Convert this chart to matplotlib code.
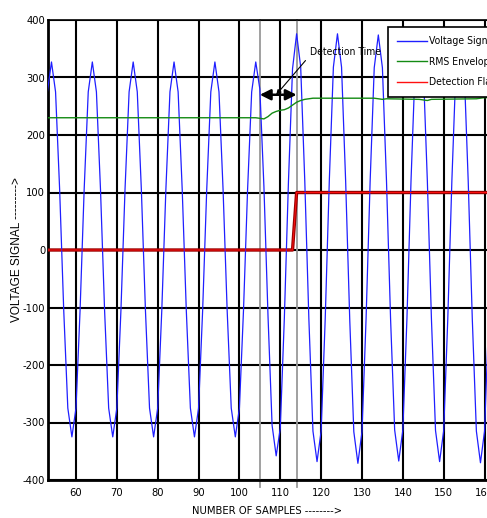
import matplotlib
matplotlib.use("Agg")
import matplotlib.pyplot as plt
from matplotlib import font_manager
from matplotlib.font_manager import FontProperties

plt.rcParams['axes.unicode_minus'] = False

# look for a narrow / condensed face, the chart uses Arial Narrow style text
narrow_file = None
for f in font_manager.fontManager.ttflist:
    if f.style != 'normal' or f.weight not in (400, 'normal', 'regular'):
        continue
    if 'Narrow' in f.name or 'Condensed' in f.name or f.stretch in ('condensed', 'semi-condensed'):
        if narrow_file is None or 'Liberation' in f.name:
            narrow_file = f.fname


def nfont(size):
    if narrow_file:
        return FontProperties(fname=narrow_file, size=size)
    return FontProperties(family='Liberation Sans', size=size * 0.9)


# --- data ---
samples = list(range(53, 162))
voltage = [
    275,                                                     # 53
    327, 275, 105, -105, -275, -325, -275, -105, 105, 275,   # 54-63
    327, 275, 105, -105, -275, -325, -275, -105, 105, 275,   # 64-73
    327, 275, 105, -105, -275, -325, -275, -105, 105, 275,   # 74-83
    327, 275, 105, -105, -275, -325, -275, -105, 105, 275,   # 84-93
    327, 275, 105, -105, -275, -325, -275, -105, 105, 275,   # 94-103
    327, 280, 110, -115, -305, -358, -310, -118, 118, 315,   # 104-113
    376, 318, 120, -120, -315, -368, -315, -120, 120, 318,   # 114-123
    376, 318, 120, -120, -316, -371, -316, -120, 120, 317,   # 124-133
    374, 317, 120, -120, -313, -367, -313, -120, 120, 317,   # 134-143
    375, 317, 120, -120, -314, -368, -314, -120, 120, 317,   # 144-153
    375, 317, 120, -120, -315, -370, -315, -120,             # 154-161
]

rms_x = [53, 104, 105, 106, 107, 108, 109, 110, 111, 112, 113, 114, 115, 116, 117, 118,
         133, 134, 135, 136, 144, 145, 146, 147, 158, 159, 160, 161]
rms_y = [230, 230, 229, 228, 232, 238, 241, 243, 244, 247, 252, 257, 260, 262, 263, 264,
         264, 263, 262, 263, 262, 261, 260, 262, 263, 264, 265, 265]

flag_x = [53, 113, 114, 161]
flag_y = [0, 0, 100, 100]

detect_start = 105
detect_end = 114

xticks = [60, 70, 80, 90, 100, 110, 120, 130, 140, 150, 160]
yticks = [-400, -300, -200, -100, 0, 100, 200, 300, 400]

fig = plt.figure(figsize=(4.87, 5.18), dpi=100)
ax = fig.add_axes([48 / 487, 38 / 518, 439 / 487, 460 / 518])

ax.set_xlim(53.15, 160.6)
ax.set_ylim(-400, 400)
ax.set_xticks(xticks)
ax.set_yticks(yticks)
ax.grid(True, color='black', linewidth=1.5)
ax.set_axisbelow(True)
ax.tick_params(length=0, pad=2)
ax.tick_params(axis='x', pad=6)
for lab in ax.get_xticklabels() + ax.get_yticklabels():
    lab.set_fontproperties(nfont(8))
for s in ['left', 'bottom']:
    ax.spines[s].set_linewidth(2)
ax.spines['top'].set_linewidth(1.2)
ax.spines['right'].set_visible(False)

# detection window markers
for xv in [detect_start, detect_end]:
    ax.plot([xv, xv], [-412, 400], color='#999999', linewidth=1.3, clip_on=False, zorder=2)

ax.plot(samples, voltage, color='#1f1fff', linewidth=0.9, label='Voltage Signal', zorder=3)
ax.plot(rms_x, rms_y, color='#138a13', linewidth=1.0, label='RMS Envelope', zorder=3)
ax.plot(flag_x, flag_y, color='#ff1010', linewidth=0.7, label='Detection Flag', zorder=3)
# flag lies on the black grid lines, looks dark red there
ax.plot(flag_x, flag_y, color='#9a0000', linewidth=2.4, zorder=2.9)

ax.annotate('', xy=(detect_start, 270), xytext=(detect_end, 270),
            arrowprops=dict(arrowstyle='<|-|>', color='black', lw=1.8, mutation_scale=16,
                            shrinkA=0, shrinkB=0), zorder=4)
ax.annotate('Detection Time', xy=(109, 270), xytext=(117.3, 344),
            fontproperties=nfont(7.5), va='center', ha='left',
            arrowprops=dict(arrowstyle='-|>', color='black', lw=0.8, mutation_scale=7,
                            shrinkA=2, shrinkB=0, relpos=(0, 0.2)), zorder=4)

ax.set_ylabel('VOLTAGE SIGNAL --------->', fontsize=8.5, family='Liberation Sans')
ax.set_xlabel('NUMBER OF SAMPLES -------->', fontproperties=nfont(8))
ax.yaxis.set_label_coords(-25 / 439, 0.5)
ax.xaxis.set_label_coords(0.5, -26 / 460)

leg = ax.legend(loc='upper left', bbox_to_anchor=(388 / 487, 1 - 27 / 518),
                bbox_transform=fig.transFigure, fancybox=False, framealpha=1,
                edgecolor='black', prop=nfont(7.5),
                handlelength=2.8, handletextpad=0.25, borderpad=0.9, labelspacing=1.0,
                borderaxespad=0)
leg.get_frame().set_linewidth(1.2)
for ln in leg.get_lines():
    ln.set_linewidth(1.0)

fig.savefig('out.png', dpi=100)
